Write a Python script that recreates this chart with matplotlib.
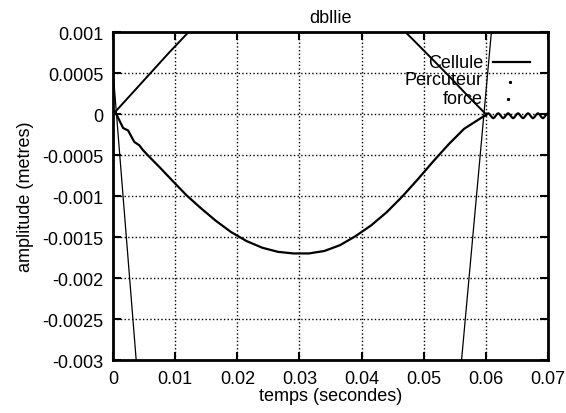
import matplotlib
matplotlib.use('Agg')
import matplotlib.pyplot as plt

plt.rcParams['font.family'] = ['Liberation Sans', 'DejaVu Sans']
plt.rcParams['font.size'] = 13
plt.rcParams['axes.unicode_minus'] = False

# Cellule: displacement of the cell (m) vs time (s)
cell_t = [0, 0.0005, 0.0016, 0.0024, 0.0034, 0.0042, 0.0048, 0.0058, 0.0075, 0.0095,
          0.0118, 0.014, 0.0165, 0.019, 0.0215, 0.024, 0.0265, 0.029, 0.0315, 0.034,
          0.0365, 0.039, 0.0415, 0.044, 0.0465, 0.049, 0.0515, 0.054, 0.0565, 0.0598,
          0.0600, 0.0602, 0.0604, 0.0606, 0.0608, 0.0610, 0.0612, 0.0614,
          0.0616, 0.0618, 0.0620, 0.0622, 0.0624, 0.0626, 0.0628, 0.0630,
          0.0632, 0.0634, 0.0636, 0.0638, 0.0640, 0.0642, 0.0644, 0.0646,
          0.0648, 0.0650, 0.0652, 0.0654, 0.0656, 0.0658, 0.0660, 0.0662,
          0.0664, 0.0666, 0.0668, 0.0670, 0.0672, 0.0674, 0.0676, 0.0678,
          0.0680, 0.0682, 0.0684, 0.0686, 0.0688, 0.0690, 0.0692, 0.0694,
          0.0696, 0.0698, 0.0700]
cell_y = [0, 0, -0.00017, -0.0002, -0.00034, -0.00038, -0.00044, -0.00052, -0.00065, -0.00081,
          -0.00099, -0.00114, -0.0013, -0.00144, -0.00155, -0.00163, -0.00168, -0.0017, -0.0017, -0.00167,
          -0.0016, -0.00149, -0.00136, -0.0012, -0.00101, -0.0008, -0.00058, -0.00037, -0.00018, -0.00002,
          -2e-5, 0, 1e-5, 0, -2e-5, -4e-5, -5e-5, -4e-5,
          -2e-5, 0, 1e-5, 0, -2e-5, -4e-5, -5e-5, -4e-5,
          -2e-5, 0, 1e-5, 0, -2e-5, -4e-5, -5e-5, -4e-5,
          -2e-5, 0, 1e-5, 0, -2e-5, -4e-5, -5e-5, -4e-5,
          -2e-5, 0, 1e-5, 0, -2e-5, -4e-5, -5e-5, -4e-5,
          -2e-5, 0, 1e-5, 0, -2e-5, -4e-5, -5e-5, -4e-5,
          -2e-5, 0, 1e-5]

# Percuteur: striker displacement
perc_t = [0, 0.003, 0.006, 0.009, 0.012, 0.015, 0.02, 0.025, 0.03, 0.035,
          0.04, 0.045, 0.048, 0.051, 0.054, 0.057, 0.06]
perc_y = [0, 0.00025, 0.0005, 0.00075, 0.00099, 0.0012, 0.0014, 0.0015, 0.00153, 0.0015,
          0.0014, 0.00115, 0.00093, 0.0007, 0.00047, 0.00023, 0]

# force (scaled), mostly off the visible range
force_t = [0, 0.0037, 0.01, 0.02, 0.03, 0.04, 0.05, 0.0561, 0.0597, 0.0609, 0.062, 0.064]
force_y = [0.0005, -0.003, -0.0085, -0.014, -0.0162, -0.014, -0.0085, -0.003, 0, 0.001, 0.0019, 0.0035]

xticks = [0, 0.01, 0.02, 0.03, 0.04, 0.05, 0.06, 0.07]
xlabels = ['0', '0.01', '0.02', '0.03', '0.04', '0.05', '0.06', '0.07']
yticks = [-0.003, -0.0025, -0.002, -0.0015, -0.001, -0.0005, 0, 0.0005, 0.001]
ylabels = ['-0.003', '-0.0025', '-0.002', '-0.0015', '-0.001', '-0.0005', '0', '0.0005', '0.001']

fig = plt.figure(figsize=(5.66, 4.14), dpi=100)
ax = fig.add_axes([0.2, 0.128, 0.768, 0.792])

ax.plot(cell_t, cell_y, color='black', lw=1.6)
ax.plot(perc_t, perc_y, color='black', lw=1.4)
ax.plot(force_t, force_y, color='black', lw=0.9)

ax.set_xlim(0, 0.07)
ax.set_ylim(-0.003, 0.001)
ax.set_xticks(xticks)
ax.set_xticklabels(xlabels)
ax.set_yticks(yticks)
ax.set_yticklabels(ylabels)
ax.grid(True, linestyle=':', color='black', lw=1)
ax.tick_params(direction='in', length=6, width=1.5, top=True, right=True, pad=7)
for s in ax.spines.values():
    s.set_linewidth(2)

ax.set_title('dbllie', fontsize=13, pad=7)
ax.set_xlabel('temps (secondes)', labelpad=0)
ax.set_ylabel('amplitude (metres)', labelpad=6)

# gnuplot style key: right aligned labels, samples on the right
ax.text(0.8506, 0.9085, 'Cellule', ha='right', va='center', transform=ax.transAxes)
ax.plot([0.8736, 0.9586], [0.9085, 0.9085], color='black', lw=1.6, transform=ax.transAxes)
ax.text(0.8506, 0.854, 'Percuteur', ha='right', va='center', transform=ax.transAxes)
ax.plot([0.9126], [0.848], marker='s', ms=1.2, color='black', ls='none', transform=ax.transAxes)
ax.text(0.8506, 0.799, 'force', ha='right', va='center', transform=ax.transAxes)
ax.plot([0.9080], [0.795], marker='s', ms=1.2, color='black', ls='none', transform=ax.transAxes)

fig.savefig('out.png', dpi=100)
